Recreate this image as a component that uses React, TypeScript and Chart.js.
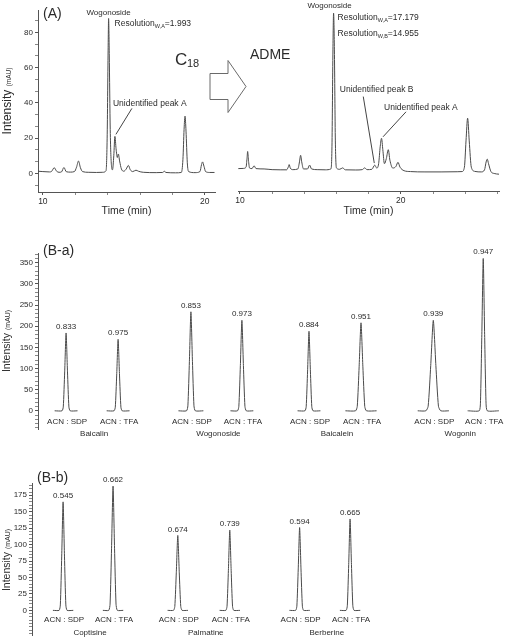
import React, { useEffect, useRef } from 'react';
import { Chart, registerables } from 'chart.js';

Chart.register(...registerables);

const FONT = '"Liberation Sans", Arial, Helvetica, sans-serif';
const INK = '#2b2b2b';
const TRACE = '#4a4a4a';
const AXIS = '#555555';

// ---------- Panel (A): C18 column chromatogram ----------
const c18Time = [9.7, 10.0, 10.4, 10.55, 10.7, 10.85, 11.0, 11.15, 11.3, 11.45, 11.7, 11.95, 12.08, 12.2, 12.32, 12.45, 12.8, 13.3, 13.7, 13.9, 13.97, 14.03, 14.06, 14.1, 14.16, 14.24, 14.3, 14.38, 14.45, 14.52, 14.6, 14.66, 14.74, 14.85, 15.0, 15.15, 15.28, 15.4, 15.55, 15.75, 15.9, 16.2, 17.0, 17.4, 17.5, 17.6, 18.2, 18.55, 18.65, 18.72, 18.78, 18.84, 18.92, 19.0, 19.4, 19.7, 19.8, 19.86, 19.95, 20.05, 20.3, 20.6];
const c18Signal = [1.2, 1.0, 0.8, 1.2, 3.2, 1.2, 0.6, 0.8, 3.3, 0.9, 0.7, 1.0, 3.5, 7.0, 3.2, 1.0, 0.6, 0.5, 0.6, 1.5, 20, 70, 88, 68, 25, 4, 2, 10, 21, 14, 9, 11, 7, 2.5, 1.2, 2.5, 4.5, 2, 1, 1.8, 1.2, 0.6, 0.4, 0.5, 1.2, 0.5, 0.3, 0.5, 8, 25, 32.5, 24, 6, 1, 0.4, 1, 5, 6.5, 4, 1, 0.5, 0.5];
const c18Wogonoside = { t: 14.06, v: 88 };
const c18PeakA = { t: 14.45, v: 21 };

// ---------- Panel (A): ADME column chromatogram ----------
const admeTime = [9.9, 10.2, 10.38, 10.44, 10.48, 10.53, 10.6, 10.75, 10.88, 11.0, 11.5, 12.0, 12.5, 12.9, 13.0, 13.06, 13.13, 13.3, 13.6, 13.7, 13.77, 13.84, 13.95, 14.2, 14.33, 14.45, 14.8, 15.3, 15.65, 15.72, 15.78, 15.82, 15.87, 15.93, 16.0, 16.2, 16.38, 16.55, 17.2, 17.6, 17.75, 17.9, 18.2, 18.38, 18.5, 18.62, 18.72, 18.8, 18.88, 18.98, 19.1, 19.22, 19.32, 19.5, 19.7, 19.82, 19.95, 20.2, 20.6, 21.5, 22.5, 23.5, 23.8, 23.95, 24.05, 24.15, 24.25, 24.38, 24.6, 25.0, 25.2, 25.3, 25.37, 25.45, 25.6, 25.8, 26.1];
const admeSignal = [2.2, 2.3, 3, 8, 12, 7, 2.5, 2.2, 3.8, 2.2, 2.0, 1.6, 1.5, 1.5, 3, 4.5, 2.5, 1.6, 2, 6, 9.8, 6, 2, 2, 4.2, 2, 1.6, 1.5, 2, 15, 70, 91, 70, 18, 2.5, 1.8, 2.6, 1.5, 1.4, 1.6, 2.6, 1.6, 1.8, 4.2, 2.5, 5, 15, 19.5, 13, 5, 8, 13, 7, 2.5, 3.5, 5.8, 3, 1, 0.5, 0.3, 0.3, 0.4, 0.5, 3, 18, 31, 18, 3, 0.6, 0.3, 1.5, 6, 7.6, 5, 0.5, -0.6, -1];
const admeWogonoside = { t: 15.82, v: 91 };
const admePeakB = { t: 18.38, v: 4.2 };
const admePeakA = { t: 18.8, v: 19.5 };

const timeTickLabels = [10, 20];
const aIntensityTickLabels = [0, 20, 40, 60, 80];

// ---------- Panel (B-a) ----------
const baPeakPos = [0, 1, 2.4, 3.38, 4.67, 5.67, 7.06, 8.02];
const baPeakHeight = [184, 169, 234, 214, 188, 208, 214, 360];
const baPeakWidth = [0.06, 0.06, 0.065, 0.065, 0.06, 0.08, 0.11, 0.06];
const baBaseline = [0.22, 0.22, 0.24, 0.22, 0.22, 0.3, 0.3, 0.3];
const baValueLabels = ['0.833', '0.975', '0.853', '0.973', '0.884', '0.951', '0.939', '0.947'];
const baCompounds = ['Baicalin', 'Wogonoside', 'Baicalein', 'Wogonin'];
const baTickLabels = [0, 50, 100, 150, 200, 250, 300, 350];

// ---------- Panel (B-b) ----------
const bbPeakPos = [0, 0.98, 2.25, 3.27, 4.64, 5.63];
const bbPeakHeight = [165, 189, 114, 122, 126, 139];
const bbPeakWidth = [0.06, 0.065, 0.065, 0.06, 0.06, 0.06];
const bbBaseline = [0.2, 0.2, 0.2, 0.2, 0.2, 0.2];
const bbValueLabels = ['0.545', '0.662', '0.674', '0.739', '0.594', '0.665'];
const bbCompounds = ['Coptisine', 'Palmatine', 'Berberine'];
const bbTickLabels = [0, 25, 50, 75, 100, 125, 150, 175];

const methodLabels = ['ACN : SDP', 'ACN : TFA'];

// ---------- helpers ----------
const near = (v: number, list: number[]) => list.some((l) => Math.abs(v - l) < 1e-6);

function trace(xs: number[], ys: number[]) {
  return {
    data: xs.map((x, i) => ({ x, y: ys[i] })),
    borderColor: TRACE,
    borderWidth: 1,
    pointRadius: 0,
    fill: false,
    cubicInterpolationMode: 'monotone',
  };
}

function peakTrace(c: number, h: number, w: number, base: number) {
  return {
    data: [
      { x: c - base, y: 0 },
      { x: c - 1.3 * w, y: 0 },
      { x: c - 0.9 * w, y: 0.05 * h },
      { x: c - 0.45 * w, y: 0.5 * h },
      { x: c, y: h },
      { x: c + 0.45 * w, y: 0.5 * h },
      { x: c + 0.9 * w, y: 0.05 * h },
      { x: c + 1.3 * w, y: 0 },
      { x: c + base, y: 0 },
    ],
    borderColor: TRACE,
    borderWidth: 1,
    pointRadius: 0,
    fill: false,
    tension: 0.2,
  };
}

function axis(min: number, max: number, step: number, labels: number[], size: number, fit: (s: any) => void) {
  return {
    type: 'linear',
    min,
    max,
    border: { display: true, color: AXIS, width: 1 },
    grid: {
      display: true,
      drawOnChartArea: false,
      drawTicks: true,
      tickLength: 3,
      color: AXIS,
      tickColor: (ctx: any) => (ctx.tick && near(ctx.tick.value, labels) ? AXIS : '#888'),
    },
    ticks: {
      stepSize: step,
      includeBounds: false,
      autoSkip: false,
      maxRotation: 0,
      minRotation: 0,
      padding: 2,
      color: INK,
      font: { family: FONT, size },
      callback: (v: number) => (near(v, labels) ? String(Math.round(v)) : ''),
    },
    afterFit: fit,
  };
}

function common(padding: any) {
  return {
    responsive: false,
    animation: false,
    devicePixelRatio: 1,
    events: [],
    layout: { padding },
    plugins: { legend: { display: false }, tooltip: { enabled: false }, title: { display: false } },
  };
}

function text(ctx: CanvasRenderingContext2D, s: string, x: number, y: number, size: number, align: CanvasTextAlign = 'left') {
  ctx.font = `${size}px ${FONT}`;
  ctx.fillStyle = INK;
  ctx.textAlign = align;
  ctx.textBaseline = 'middle';
  ctx.fillText(s, x, y);
  return ctx.measureText(s).width;
}

function subText(ctx: CanvasRenderingContext2D, main: string, sub: string, tail: string, x: number, y: number, size: number, subSize: number) {
  let cx = x;
  cx += text(ctx, main, cx, y, size);
  cx += text(ctx, sub, cx, y + size * 0.3, subSize);
  text(ctx, tail, cx, y, size);
}

function yTitle(ctx: CanvasRenderingContext2D, cx: number, cy: number, big: number, small: number) {
  ctx.save();
  ctx.translate(cx, cy);
  ctx.rotate(-Math.PI / 2);
  ctx.fillStyle = INK;
  ctx.textBaseline = 'alphabetic';
  ctx.textAlign = 'left';
  ctx.font = `${big}px ${FONT}`;
  const w1 = ctx.measureText('Intensity ').width;
  ctx.font = `${small}px ${FONT}`;
  const w2 = ctx.measureText('(mAU)').width;
  const x0 = -(w1 + w2) / 2;
  ctx.font = `${big}px ${FONT}`;
  ctx.fillText('Intensity', x0, big * 0.3);
  ctx.font = `${small}px ${FONT}`;
  ctx.fillText('(mAU)', x0 + w1, big * 0.3);
  ctx.restore();
}

function line(ctx: CanvasRenderingContext2D, x1: number, y1: number, x2: number, y2: number, color = '#444') {
  ctx.save();
  ctx.strokeStyle = color;
  ctx.lineWidth = 1;
  ctx.beginPath();
  ctx.moveTo(x1, y1);
  ctx.lineTo(x2, y2);
  ctx.stroke();
  ctx.restore();
}

// ---------- chart configs ----------
function c18Config() {
  return {
    type: 'line',
    data: { datasets: [trace(c18Time, c18Signal)] },
    options: {
      ...common({ top: 10, right: 10, left: 0, bottom: 0 }),
      scales: {
        x: {
          ...axis(9.7, 20.63, 2, timeTickLabels, 8.5, (s: any) => { s.height = 26; }),
          title: { display: true, text: 'Time (min)', color: INK, font: { family: FONT, size: 10.5 }, padding: { top: 0, bottom: 1 } },
        },
        y: axis(-10.6, 92.8, 20 / 3, aIntensityTickLabels, 8, (s: any) => { s.width = 38; }),
      },
    },
    plugins: [
      {
        id: 'c18Notes',
        afterDraw(chart: any) {
          const { ctx } = chart;
          const xs = chart.scales.x;
          const ys = chart.scales.y;
          text(ctx, '(A)', 43, 14, 14);
          const wx = xs.getPixelForValue(c18Wogonoside.t);
          const wy = ys.getPixelForValue(c18Wogonoside.v);
          text(ctx, 'Wogonoside', wx, wy - 6, 8, 'center');
          subText(ctx, 'Resolution', 'W,A', '=1.993', wx + 6, wy + 5, 8.5, 5.5);
          const ax = xs.getPixelForValue(c18PeakA.t);
          const ay = ys.getPixelForValue(c18PeakA.v);
          text(ctx, 'Unidentified peak A', ax - 2, ay - 33, 8.5);
          line(ctx, ax + 1, ay - 2, ax + 17, ay - 28);
          // column label
          text(ctx, 'C', 175, 60, 17);
          text(ctx, '18', 187, 64, 11);
          yTitle(ctx, 7, 101, 12, 6.5);
        },
      },
    ],
  };
}

const ADME_LEFT = 200;
function admeConfig() {
  return {
    type: 'line',
    data: { datasets: [trace(admeTime, admeSignal)] },
    options: {
      ...common({ top: 10, right: 6, left: 38, bottom: 0 }),
      scales: {
        x: {
          ...axis(9.88, 26.1, 2, timeTickLabels, 8.5, (s: any) => { s.height = 27; }),
          title: { display: true, text: 'Time (min)', color: INK, font: { family: FONT, size: 10.5 }, padding: { top: 0, bottom: 1 } },
        },
        y: { type: 'linear', display: false, min: -10.6, max: 92.8 },
      },
    },
    plugins: [
      {
        id: 'admeNotes',
        afterDraw(chart: any) {
          const { ctx } = chart;
          const xs = chart.scales.x;
          const ys = chart.scales.y;
          // hollow arrow from C18 to ADME
          const o = ADME_LEFT;
          const yc = 86.5;
          ctx.save();
          ctx.strokeStyle = '#6a6a6a';
          ctx.lineWidth = 1;
          ctx.beginPath();
          ctx.moveTo(210 - o, yc - 13);
          ctx.lineTo(228 - o, yc - 13);
          ctx.lineTo(228 - o, yc - 26);
          ctx.lineTo(246 - o, yc);
          ctx.lineTo(228 - o, yc + 26);
          ctx.lineTo(228 - o, yc + 13);
          ctx.lineTo(210 - o, yc + 13);
          ctx.closePath();
          ctx.stroke();
          ctx.restore();
          text(ctx, 'ADME', 250 - o, 55, 14);

          const wx = xs.getPixelForValue(admeWogonoside.t);
          const wy = ys.getPixelForValue(admeWogonoside.v);
          text(ctx, 'Wogonoside', wx - 4, wy - 7, 8, 'center');
          subText(ctx, 'Resolution', 'W,A', '=17.179', wx + 4, wy + 4.5, 8.5, 5.5);
          subText(ctx, 'Resolution', 'W,B', '=14.955', wx + 4, wy + 20.5, 8.5, 5.5);

          const bx = xs.getPixelForValue(admePeakB.t);
          const by = ys.getPixelForValue(admePeakB.v);
          text(ctx, 'Unidentified peak B', bx - 35, by - 75, 8.5);
          line(ctx, bx - 11.5, by - 68.5, bx - 0.5, by - 2);

          const px = xs.getPixelForValue(admePeakA.t);
          const py = ys.getPixelForValue(admePeakA.v);
          text(ctx, 'Unidentified peak A', px + 2.5, py - 31, 8.5);
          line(ctx, px + 24.5, py - 26.5, px + 1.5, py - 1.5);
        },
      },
    ],
  };
}

function peakPanelConfig(opts: {
  pos: number[]; height: number[]; width: number[]; base: number[];
  values: string[]; compounds: string[]; ticks: number[];
  xMin: number; xMax: number; yMin: number; yMax: number; yStep: number;
  axisWidth: number; padding: any; tag: string; tagX: number; tagY: number;
  titleY: number; valueGap: number; methodGap: number; nameGap: number;
}) {
  return {
    type: 'line',
    data: { datasets: opts.pos.map((c, i) => peakTrace(c, opts.height[i], opts.width[i], opts.base[i])) },
    options: {
      ...common(opts.padding),
      scales: {
        x: { type: 'linear', display: false, min: opts.xMin, max: opts.xMax },
        y: axis(opts.yMin, opts.yMax, opts.yStep, opts.ticks, 8, (s: any) => { s.width = opts.axisWidth; }),
      },
    },
    plugins: [
      {
        id: 'peakNotes',
        afterDraw(chart: any) {
          const { ctx } = chart;
          const xs = chart.scales.x;
          const ys = chart.scales.y;
          const y0 = ys.getPixelForValue(0);
          text(ctx, opts.tag, opts.tagX, opts.tagY, 14);
          opts.pos.forEach((c, i) => {
            const px = xs.getPixelForValue(c);
            text(ctx, opts.values[i], px, ys.getPixelForValue(opts.height[i]) - opts.valueGap, 8, 'center');
            text(ctx, methodLabels[i % 2], px + 1, y0 + opts.methodGap, 8, 'center');
          });
          opts.compounds.forEach((name, k) => {
            const cx = xs.getPixelForValue((opts.pos[2 * k] + opts.pos[2 * k + 1]) / 2);
            text(ctx, name, cx + 2, y0 + opts.nameGap, 8, 'center');
          });
          yTitle(ctx, 7, opts.titleY, 10.5, 7);
        },
      },
    ],
  };
}

function ChartCanvas({ left, top, width, height, build }: { left: number; top: number; width: number; height: number; build: () => any }) {
  const ref = useRef<HTMLCanvasElement | null>(null);
  useEffect(() => {
    if (!ref.current) return;
    const chart = new Chart(ref.current, build());
    return () => chart.destroy();
  }, []);
  return (
    <canvas
      ref={ref}
      width={width}
      height={height}
      style={{ position: 'absolute', left, top, width, height }}
    />
  );
}

export default function App() {
  return (
    <div style={{ position: 'absolute', left: 0, top: 0, width: 505, height: 642, background: '#fff', overflow: 'hidden' }}>
      <ChartCanvas left={0} top={0} width={225} height={218} build={c18Config} />
      <ChartCanvas left={ADME_LEFT} top={0} width={305} height={218} build={admeConfig} />
      <ChartCanvas
        left={0}
        top={235}
        width={505}
        height={205}
        build={() =>
          peakPanelConfig({
            pos: baPeakPos, height: baPeakHeight, width: baPeakWidth, base: baBaseline,
            values: baValueLabels, compounds: baCompounds, ticks: baTickLabels,
            xMin: -0.54, xMax: 8.4, yMin: -43, yMax: 373, yStep: 10,
            axisWidth: 38, padding: { top: 18, bottom: 11, right: 2, left: 0 },
            tag: '(B-a)', tagX: 43, tagY: 16, titleY: 106,
            valueGap: 6.5, methodGap: 10.5, nameGap: 23,
          })
        }
      />
      <ChartCanvas
        left={0}
        top={465}
        width={505}
        height={177}
        build={() =>
          peakPanelConfig({
            pos: bbPeakPos, height: bbPeakHeight, width: bbPeakWidth, base: bbBaseline,
            values: bbValueLabels, compounds: bbCompounds, ticks: bbTickLabels,
            xMin: -0.61, xMax: 8.63, yMin: -37.5, yMax: 193.7, yStep: 5,
            axisWidth: 32, padding: { top: 18, bottom: 7, right: 2, left: 0 },
            tag: '(B-b)', tagX: 37, tagY: 13, titleY: 95,
            valueGap: 6, methodGap: 9, nameGap: 22.5,
          })
        }
      />
    </div>
  );
}
